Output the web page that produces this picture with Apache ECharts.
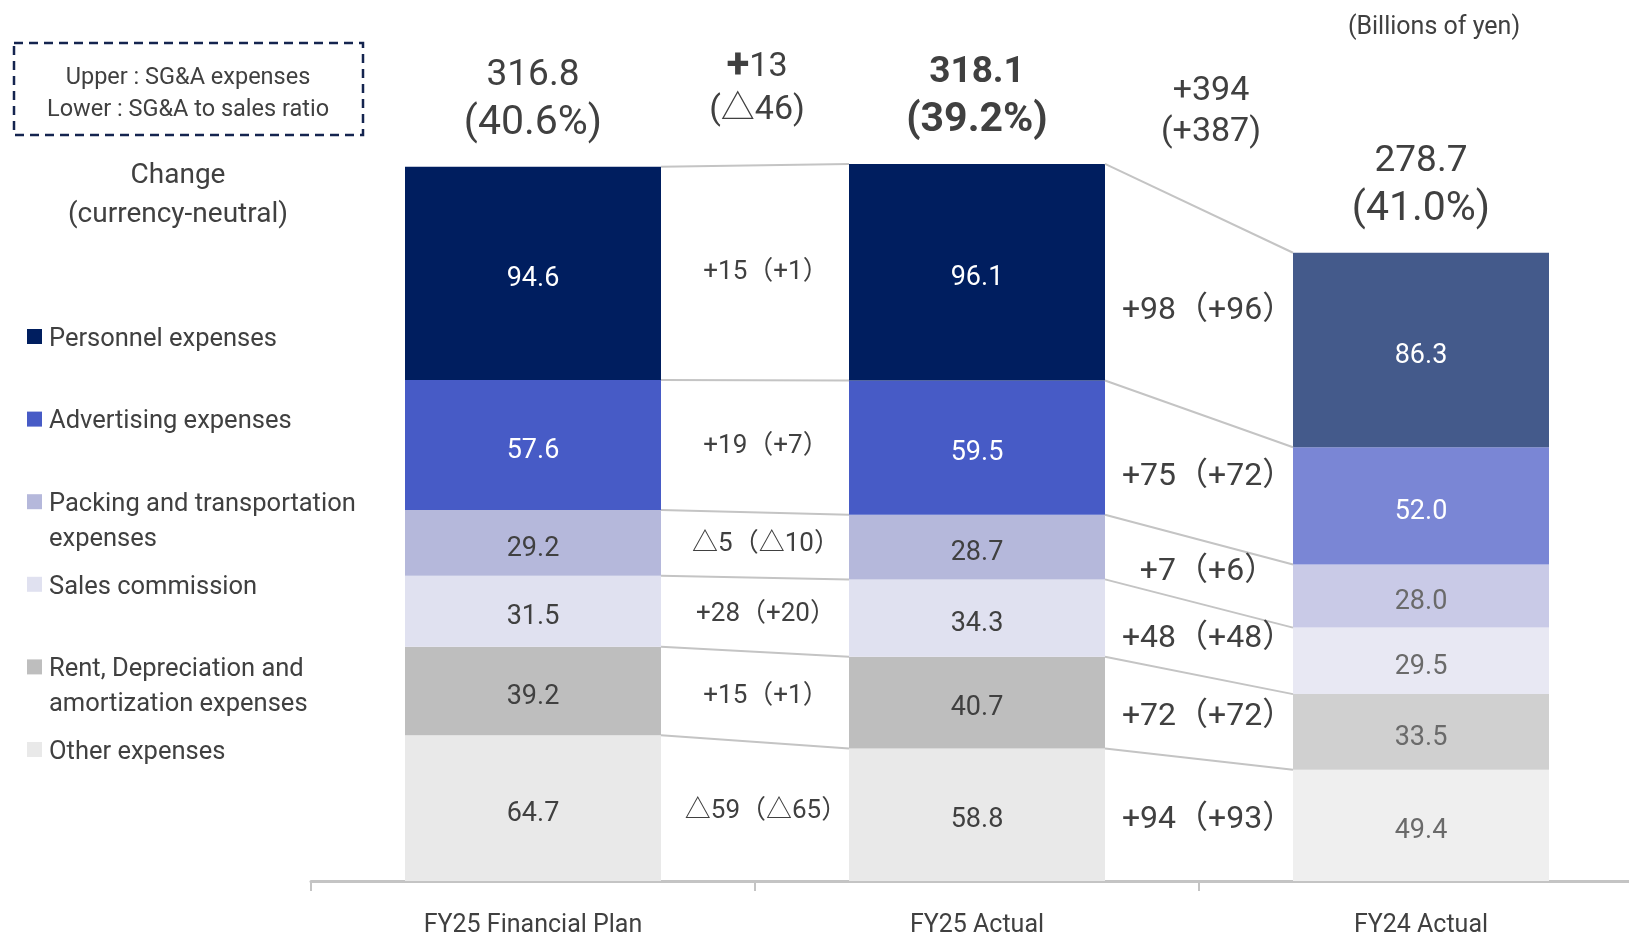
<!DOCTYPE html>
<html>
<head>
<meta charset="utf-8">
<script src="https://cdn.jsdelivr.net/npm/echarts@6/dist/echarts.min.js"></script>
<style>
    html, body { margin: 0; padding: 0; background: #ffffff; overflow: hidden; }
    /* a little wider than the window so the last band can run past the right edge */
    #main { width: 1660px; height: 938px; }
</style>
</head>
<body>
<div id="main"></div>
<script>
// ---------------------------------------------------------------- data
var categories = ['FY25 Financial Plan', 'FY25 Actual', 'FY24 Actual'];

// stacked from the bottom up
var seriesNames = ['Other expenses', 'Rent, Depreciation and amortization expenses', 'Sales commission',
    'Packing and transportation expenses', 'Advertising expenses', 'Personnel expenses'];
var otherExpenses = [64.7, 58.8, 49.4];
var rentExpenses = [39.2, 40.7, 33.5];
var salesCommission = [31.5, 34.3, 29.5];
var packingExpenses = [29.2, 28.7, 28.0];
var advertisingExpenses = [57.6, 59.5, 52.0];
var personnelExpenses = [94.6, 96.1, 86.3];

var totals = [316.8, 318.1, 278.7];
var salesRatios = ['40.6%', '39.2%', '41.0%'];

// change per item (bottom up), plan -> actual and FY24 -> FY25
var changePlan = ['△59（△65）', '+15（+1）', '+28（+20）', '△5（△10）', '+19（+7）', '+15（+1）'];
var changeYoY = ['+94（+93）', '+72（+72）', '+48（+48）', '+7（+6）', '+75（+72）', '+98（+96）'];
var totalChange = [['+', '13', '(△46)'], ['+', '394', '(+387)']];

// legend order (top down)
var legendNames = ['Personnel expenses', 'Advertising expenses', 'Packing and transportation\nexpenses',
    'Sales commission', 'Rent, Depreciation and\namortization expenses', 'Other expenses'];

// ---------------------------------------------------------------- style
var colorsFY25 = ['#e9e9e9', '#bebebe', '#e0e1f0', '#b5b8db', '#475bc6', '#001e5f'];
var colorsFY24 = ['#efefef', '#d0d0d0', '#e8e8f3', '#c9cae7', '#7a86d5', '#445a8b'];
var textDark = '#404040';
var FONT = 'Roboto, "Noto Sans CJK JP", sans-serif';
var BAR_WIDTH = 256;

var values = [otherExpenses, rentExpenses, salesCommission, packingExpenses, advertisingExpenses, personnelExpenses];

// cumulative tops for every bar
var cumTops = categories.map(function (c, i) {
    var acc = 0;
    return values.map(function (v) { acc += v[i]; return acc; });
});

// ---------------------------------------------------------------- series
var series = [];
values.forEach(function (vals, s) {
    series.push({
        name: seriesNames[s],
        type: 'bar',
        stack: 'sga',
        barWidth: BAR_WIDTH,
        data: vals.map(function (v, i) {
            var dark = s >= 4;
            return {
                value: v,
                itemStyle: { color: i === 2 ? colorsFY24[s] : colorsFY25[s] },
                label: { color: dark ? '#ffffff' : (i === 2 ? '#6a6a6a' : textDark) }
            };
        }),
        label: {
            show: true,
            position: 'inside',
            offset: [0, 6],
            fontFamily: FONT,
            fontSize: 27,
            formatter: function (p) { return p.value.toFixed(1); }
        }
    });
});

// connector lines between bars
var connectorData = [];
for (var g = 0; g < 2; g++) {
    for (var k = 0; k < values.length; k++) {
        connectorData.push([g, cumTops[g][k], cumTops[g + 1][k]]);
    }
}
series.push({
    type: 'custom',
    z: 5,
    silent: true,
    data: connectorData,
    renderItem: function (params, api) {
        var p1 = api.coord([api.value(0), api.value(1)]);
        var p2 = api.coord([api.value(0) + 1, api.value(2)]);
        return {
            type: 'line',
            shape: { x1: p1[0] + BAR_WIDTH / 2, y1: p1[1], x2: p2[0] - BAR_WIDTH / 2, y2: p2[1] },
            style: { stroke: '#c4c4c4', lineWidth: 2 }
        };
    }
});

// change labels in the gaps, at the mean of the two segment middles
var changeData = [];
var changeText = [];
for (var g2 = 0; g2 < 2; g2++) {
    for (var k2 = 0; k2 < values.length; k2++) {
        var midA = cumTops[g2][k2] - values[k2][g2] / 2;
        var midB = cumTops[g2 + 1][k2] - values[k2][g2 + 1] / 2;
        changeData.push([g2, (midA + midB) / 2]);
        changeText.push(g2 === 0 ? changePlan[k2] : changeYoY[k2]);
    }
}
series.push({
    type: 'custom',
    z: 6,
    silent: true,
    data: changeData,
    renderItem: function (params, api) {
        var g = api.value(0);
        var a = api.coord([g, api.value(1)]);
        var b = api.coord([g + 1, api.value(1)]);
        return {
            type: 'text',
            x: (a[0] + b[0]) / 2 + (g === 0 ? 11 : 9),
            y: a[1],
            style: {
                text: changeText[params.dataIndex],
                fill: textDark,
                fontFamily: FONT,
                fontSize: g === 0 ? 26 : 32,
                align: 'center',
                verticalAlign: 'middle'
            }
        };
    }
});

// totals and ratios above the bars
series.push({
    type: 'custom',
    z: 6,
    silent: true,
    data: totals.map(function (t, i) { return [i, t]; }),
    renderItem: function (params, api) {
        var p = api.coord([api.value(0), api.value(1)]);
        var bold = params.dataIndex === 1 ? 'bold' : 'normal';
        var base = { fill: textDark, fontFamily: FONT, fontWeight: bold, align: 'center', verticalAlign: 'middle' };
        return {
            type: 'group',
            children: [
                { type: 'text', x: p[0], y: p[1] - 91, style: Object.assign({ text: api.value(1).toFixed(1), fontSize: 37 }, base) },
                { type: 'text', x: p[0], y: p[1] - 43, style: Object.assign({ text: '(' + salesRatios[params.dataIndex] + ')', fontSize: 41 }, base) }
            ]
        };
    }
});

// total change between bars
var totalChangeOffsets = [[-96, -53], [-72, -31]];
series.push({
    type: 'custom',
    z: 6,
    silent: true,
    data: [[0, Math.max(totals[0], totals[1])], [1, Math.max(totals[1], totals[2])]],
    renderItem: function (params, api) {
        var g = api.value(0);
        var a = api.coord([g, api.value(1)]);
        var b = api.coord([g + 1, api.value(1)]);
        var x = (a[0] + b[0]) / 2 + (g === 0 ? 2 : 12);
        var tc = totalChange[g];
        var off = totalChangeOffsets[g];
        var size = 34;
        return {
            type: 'group',
            children: [
                {
                    type: 'text', x: x, y: a[1] + off[0],
                    style: {
                        text: (g === 0 ? '{b|' + tc[0] + '}' : tc[0]) + tc[1],
                        fill: textDark, fontFamily: FONT, fontSize: size, align: 'center', verticalAlign: 'middle',
                        rich: { b: { fontWeight: 'bold', fontSize: 42, fill: textDark, fontFamily: FONT } }
                    }
                },
                {
                    type: 'text', x: x, y: a[1] + off[1],
                    style: { text: tc[2], fill: textDark, fontFamily: FONT, fontSize: size, align: 'center', verticalAlign: 'middle' }
                }
            ]
        };
    }
});

// ---------------------------------------------------------------- legend & notes
var graphics = [];
graphics.push({
    type: 'rect',
    shape: { x: 14, y: 43, width: 349, height: 92 },
    style: { fill: 'none', stroke: '#14244f', lineWidth: 2.5, lineDash: [9, 6] }
});
graphics.push({
    type: 'text', x: 188, y: 78,
    style: { text: 'Upper : SG&A expenses', fill: textDark, fontFamily: FONT, fontSize: 23.5, align: 'center', verticalAlign: 'middle' }
});
graphics.push({
    type: 'text', x: 188, y: 110,
    style: { text: 'Lower : SG&A to sales ratio', fill: textDark, fontFamily: FONT, fontSize: 23.5, align: 'center', verticalAlign: 'middle' }
});
graphics.push({
    type: 'text', x: 178, y: 176,
    style: { text: 'Change', fill: textDark, fontFamily: FONT, fontSize: 28, align: 'center', verticalAlign: 'middle' }
});
graphics.push({
    type: 'text', x: 178, y: 215,
    style: { text: '(currency-neutral)', fill: textDark, fontFamily: FONT, fontSize: 28, align: 'center', verticalAlign: 'middle' }
});
graphics.push({
    type: 'text', x: 1434, y: 28,
    style: { text: '(Billions of yen)', fill: textDark, fontFamily: FONT, fontSize: 25, align: 'center', verticalAlign: 'middle' }
});
legendNames.forEach(function (name, i) {
    var y = 337 + i * 82.6;
    graphics.push({
        type: 'rect',
        shape: { x: 27, y: y - 8, width: 15, height: 15 },
        style: { fill: colorsFY25[values.length - 1 - i] }
    });
    graphics.push({
        type: 'text', x: 49, y: y - 15,
        style: { text: name, fill: textDark, fontFamily: FONT, fontSize: 25.5, lineHeight: 35, align: 'left', verticalAlign: 'top' }
    });
});

// ---------------------------------------------------------------- chart
var chart = echarts.init(document.getElementById('main'));
chart.setOption({
    animation: false,
    backgroundColor: '#ffffff',
    grid: { left: 311, top: 92, width: 1332, height: 793 },
    xAxis: {
        type: 'category',
        data: categories,
        axisLine: { lineStyle: { color: '#c4c4c4', width: 3 } },
        axisTick: { show: true, length: 10, lineStyle: { color: '#c4c4c4', width: 2 } },
        axisLabel: { color: textDark, fontFamily: FONT, fontSize: 25, margin: 32 }
    },
    yAxis: {
        type: 'value',
        min: 0,
        max: 350,
        show: false,
        splitLine: { show: false }
    },
    graphic: graphics,
    series: series
});
</script>
</body>
</html>
